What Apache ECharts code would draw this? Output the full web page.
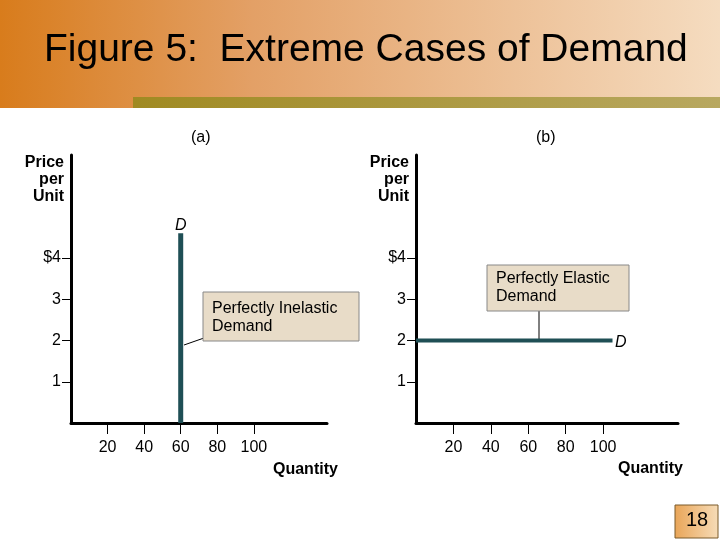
<!DOCTYPE html>
<html><head><meta charset="utf-8">
<script src="https://cdn.jsdelivr.net/npm/echarts@6/dist/echarts.min.js"></script>
<style>html,body{margin:0;padding:0;background:#fff}#c{width:720px;height:540px}</style>
</head><body><div id="c"></div>
<script>
const xTicks = [20, 40, 60, 80, 100];
const yTicks = [1, 2, 3, 4];
const yLabels = {1: '1', 2: '2', 3: '3', 4: '$4'};
const inelasticDemand = [[60, 0], [60, 4.6]];
const elasticDemand = [[0, 2], [105, 2]];
const F = 'Liberation Sans, Arial, sans-serif';

function xAxis(i){return {type:'value',gridIndex:i,min:0,max:140,
  axisLine:{lineStyle:{color:'#000',width:3}},splitLine:{show:false},
  axisTick:{customValues:xTicks,length:11,lineStyle:{color:'#000',width:1}},
  axisLabel:{customValues:xTicks,color:'#000',fontSize:16,fontFamily:F,margin:17}};}
function yAxis(i){return {type:'value',gridIndex:i,min:0,max:6.5,
  axisLine:{lineStyle:{color:'#000',width:3}},splitLine:{show:false},
  axisTick:{customValues:yTicks,length:9,lineStyle:{color:'#000',width:1}},
  axisLabel:{customValues:yTicks,color:'#000',fontSize:16,fontFamily:F,margin:10,formatter:v=>yLabels[v]||''}};}

const txt=(x,y,t,o)=>({type:'text',left:x,top:y,style:Object.assign({text:t,fill:'#000',font:'15px '+F},o||{})});
const chart=echarts.init(document.getElementById('c'));
chart.setOption({
  animation:false,
  grid:[{left:71,top:155,width:256,height:268},{left:416,top:155,width:262,height:268}],
  xAxis:[xAxis(0),xAxis(1)], yAxis:[yAxis(0),yAxis(1)],
  series:[
    {type:'line',xAxisIndex:0,yAxisIndex:0,data:inelasticDemand,symbol:'none',lineStyle:{color:'#1f4f55',width:5}},
    {type:'line',xAxisIndex:1,yAxisIndex:1,data:elasticDemand,symbol:'none',lineStyle:{color:'#1f4f55',width:4}}
  ],
  graphic:[
    {type:'rect',shape:{x:0,y:0,width:720,height:108},z:-1,style:{fill:new echarts.graphic.LinearGradient(0,0,1,0,[{offset:0,color:'#d87c1c'},{offset:0.35,color:'#e3a066'},{offset:1,color:'#f5dcc0'}])}},
    {type:'rect',shape:{x:133,y:97,width:587,height:11},style:{fill:new echarts.graphic.LinearGradient(0,0,1,0,[{offset:0,color:'#a08a22'},{offset:1,color:'#b8a860'}])}},
    {type:'text',left:44,top:31,style:{text:'Figure 5:  Extreme Cases of Demand',fill:'#000',font:'39px '+F}},
    txt(191,130,'(a)',{font:'16px '+F}), txt(536,130,'(b)',{font:'16px '+F}),
    {type:'text',x:64,y:154,style:{text:'Price\nper\nUnit',fill:'#000',font:'bold 16px '+F,align:'right',lineHeight:17}},
    {type:'text',x:409,y:154,style:{text:'Price\nper\nUnit',fill:'#000',font:'bold 16px '+F,align:'right',lineHeight:17}},
    txt(273,462,'Quantity',{font:'bold 16px '+F}), txt(618,461,'Quantity',{font:'bold 16px '+F}),
    txt(175,218,'D',{font:'italic 16px '+F}), txt(615,335,'D',{font:'italic 16px '+F}),
    {type:'line',shape:{x1:184,y1:345,x2:204,y2:338},style:{stroke:'#000',lineWidth:1}},
    {type:'rect',shape:{x:203,y:292,width:156,height:49},style:{fill:'#e8dcc8',stroke:'#888',lineWidth:1}},
    txt(212,300,'Perfectly Inelastic\nDemand',{font:'16px '+F,lineHeight:18}),
    {type:'line',shape:{x1:539,y1:311,x2:539,y2:340},style:{stroke:'#000',lineWidth:1}},
    {type:'rect',shape:{x:487,y:265,width:142,height:46},style:{fill:'#e8dcc8',stroke:'#888',lineWidth:1}},
    txt(496,270,'Perfectly Elastic\nDemand',{font:'16px '+F,lineHeight:18}),
    {type:'rect',shape:{x:675,y:505,width:43,height:33},style:{fill:new echarts.graphic.LinearGradient(0,0,1,0,[{offset:0,color:'#e9a558'},{offset:1,color:'#f6dcb8'}]),stroke:'#7a5a2a',lineWidth:1}},
    txt(686,510,'18',{font:'20px '+F})
  ]
});
</script></body></html>
